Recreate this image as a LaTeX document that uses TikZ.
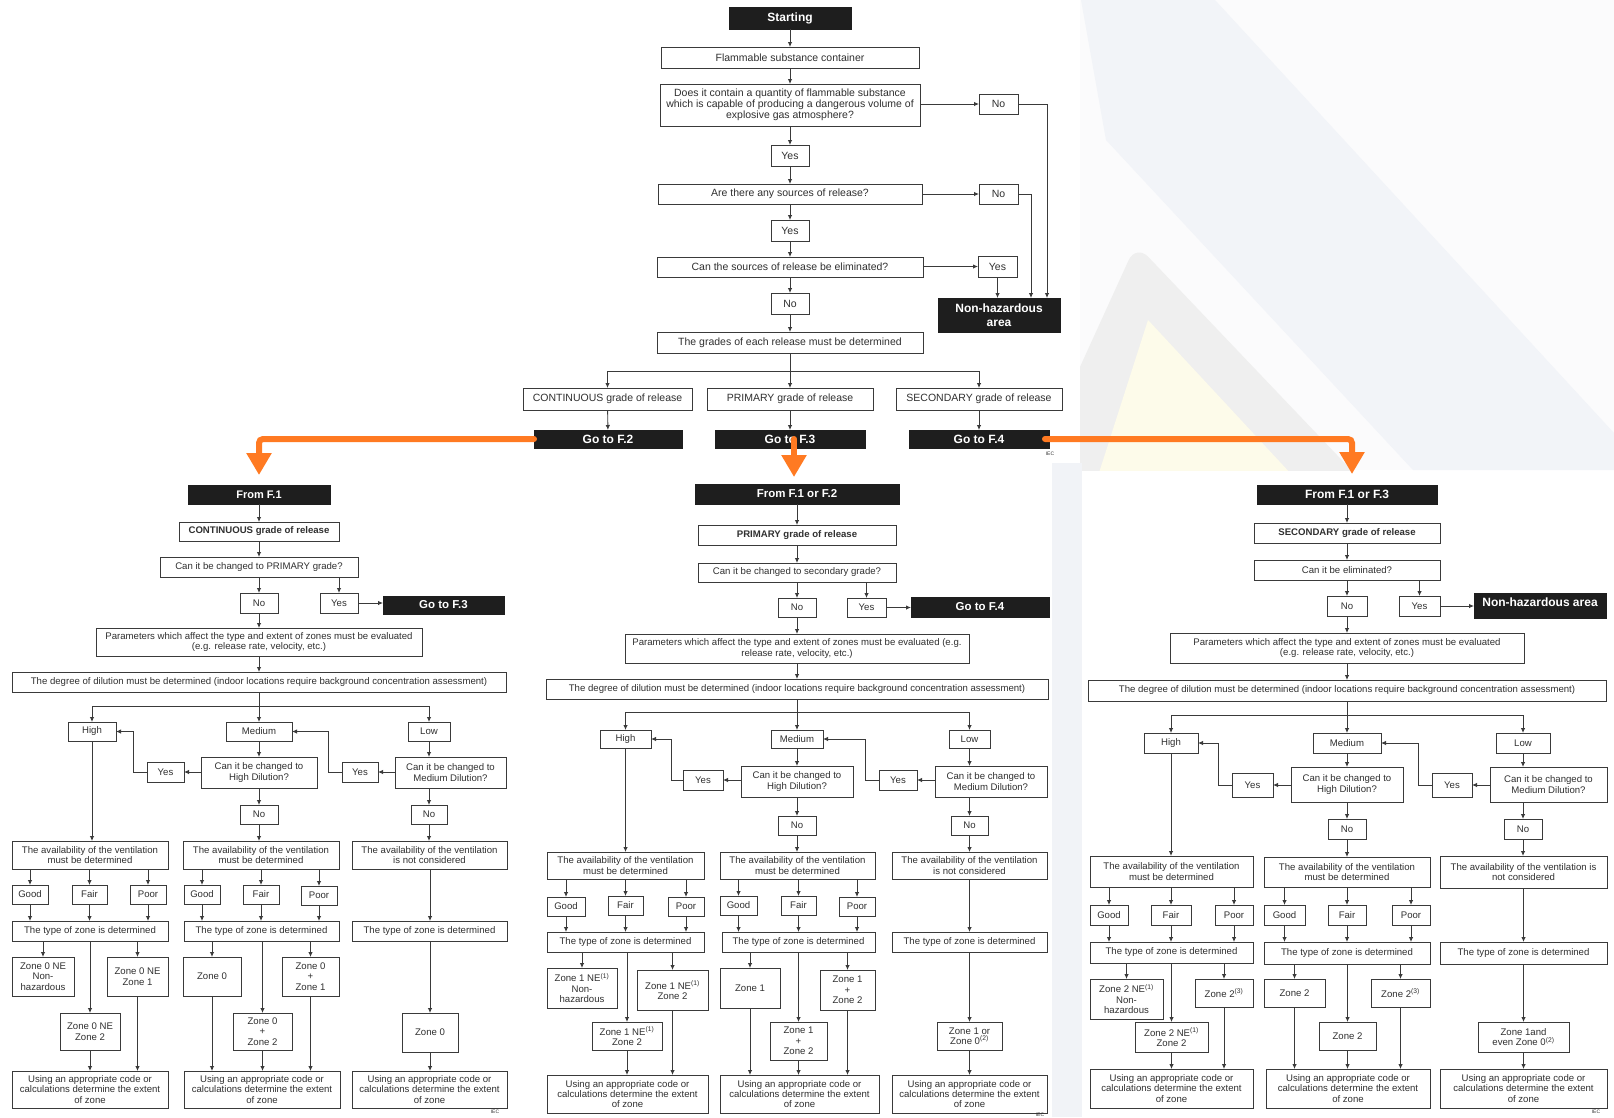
\documentclass[tikz,border=0pt]{standalone}
\usepackage{fontspec}
\setmainfont{Liberation Sans}
\usetikzlibrary{arrows.meta}
\definecolor{bc}{HTML}{3A3A3A}
\definecolor{tc}{HTML}{303030}
\definecolor{bk}{HTML}{1E1E1E}
\definecolor{orng}{HTML}{FF7A22}
\definecolor{wmbg}{HTML}{FBFBFC}
\definecolor{wmblue}{HTML}{F2F4F8}
\definecolor{wmgray}{HTML}{EFEFEF}
\definecolor{wmyel}{HTML}{FDFBEA}
\definecolor{stripc}{HTML}{F1F3F7}
\newcommand\panelfont{\fontsize{9.6}{10.4}\selectfont}
\newcommand\topfont{\fontsize{10.5}{11}\selectfont}
\newcommand\mybx[7][]{\node[box,minimum width={#5pt-#3pt},minimum height={#6pt-#4pt},#1] (#2) at ({(#3+#5)/2},{(#4+#6)/2}) {#7};}
\tikzset{
  box/.style={draw=bc,line width=0.9pt,fill=white,inner sep=1pt,outer sep=0pt,align=center,text=tc,font=\panelfont},
  blk/.style={fill=bk,draw=bk,text=white},
  tp/.style={font=\topfont},
  ar/.style={draw=bc,line width=0.9pt,-{Latex[length=5pt,width=4.5pt]}},
  ln/.style={draw=bc,line width=0.9pt},
  ora/.style={draw=orng,line width=6pt,line cap=round,rounded corners=4pt,-{Triangle[length=22pt,width=24pt]}},
  iec/.style={font=\fontsize{5}{6}\selectfont,text=tc}
}
\newcommand\panelconn[1]{%
\draw[ar] (#1from.south -| #1no) -- (#1grade.north -| #1no);
\draw[ar] (#1grade.south -| #1no) -- (#1q.north -| #1no);
\draw[ar] (#1q.south -| #1no) -- (#1no.north);
\draw[ar] (#1q.south -| #1yes) -- (#1yes.north);
\draw[ar] (#1yes.east) -- (#1yes.east -| #1goto.west);
\draw[ar] (#1no.south) -- (#1no.south |- #1par.north);
\draw[ar] (#1par.south -| #1no) -- (#1deg.north -| #1no);
\draw[ar] (#1deg.south -| #1med) -- (#1med.north);
\draw[ln] (#1br -| #1high) -- (#1br -| #1low);
\draw[ar] (#1br -| #1high) -- (#1high.north);
\draw[ar] (#1br -| #1low) -- (#1low.north);
\draw[ar] (#1med.south) -- (#1med.south |- #1qh.north);
\draw[ar] (#1qh.west |- #1yl) -- (#1yl.east);
\draw[ar] (#1yl.west) -- (#1yl.west -| #1lx) |- (#1high.east);
\draw[ar] (#1low.south) -- (#1low.south |- #1qm.north);
\draw[ar] (#1qm.west |- #1yr) -- (#1yr.east);
\draw[ar] (#1yr.west) -- (#1yr.west -| #1rx) |- (#1med.east);
\draw[ar] (#1qh.south -| #1nm) -- (#1nm.north);
\draw[ar] (#1nm.south) -- (#1nm.south |- #1avM.north);
\draw[ar] (#1qm.south -| #1nr) -- (#1nr.north);
\draw[ar] (#1nr.south) -- (#1nr.south |- #1avR.north);
\draw[ar] (#1high.south) -- (#1high.south |- #1avL.north);
\foreach \v/\s in {g/L,f/L,p/L,gM/M,fM/M,pM/M}{
  \draw[ar] (#1av\s.south -| #1\v) -- (#1\v.north);
  \draw[ar] (#1\v.south) -- (#1\v.south |- #1ty\s.north);}
\draw[ar] (#1avR.south -| #1zR) -- (#1tyR.north -| #1zR);
\draw[ar] (#1tyR.south -| #1zR) -- (#1zR.north);
\draw[ar] (#1zR.south) -- (#1zR.south |- #1usR.north);
\foreach \z in {zA,zB,zC}{\draw[ar] (#1tyL.south -| #1\z) -- (#1\z.north);}
\foreach \z in {zAM,zBM,zCM}{\draw[ar] (#1tyM.south -| #1\z) -- (#1\z.north);}
\foreach \z in {zB,zC}{\draw[ar] (#1\z.south) -- (#1\z.south |- #1usL.north);}
\foreach \z in {zAM,zBM,zCM}{\draw[ar] (#1\z.south) -- (#1\z.south |- #1usM.north);}
}
\newcommand\avtxt{The availability of the ventilation\\must be determined}
\newcommand\tytxt{The type of zone is determined}
\newcommand\ustxt{Using an appropriate code or\\calculations determine the extent\\of zone}
\newcommand\degtxt{The degree of dilution must be determined (indoor locations require background concentration assessment)}
\begin{document}
\begin{tikzpicture}[x=1pt,y=-1pt]
\useasboundingbox (0,0) rectangle (1614,1117);
\fill[white] (0,0) rectangle (1614,1117);
% watermark background
\begin{scope}
\clip (1080,0) rectangle (1614,470);
\fill[wmbg] (1080,0) rectangle (1614,470);
\fill[wmblue] (1081,0) -- (1215,0) -- (1614,433) -- (1614,470) -- (1413,470) -- (1106,140) -- cycle;
\fill[wmgray,rounded corners=18pt] (1136,244) -- (1437,560) -- (992,560) -- cycle;
\fill[wmyel] (1148,320) -- (1371,560) -- (1071,560) -- cycle;
\end{scope}
\fill[stripc] (1052,463) rectangle (1082,1117);

% ===== F.1 (top) =====
\mybx[blk,font=\fontsize{12}{14}\selectfont\bfseries]{start}{729}{7}{851}{29}{Starting}
\mybx[tp]{flam}{661}{47}{919}{68}{Flammable substance container}
\mybx[tp]{q1}{660}{84}{920}{126}{Does it contain a quantity of flammable substance\\which is capable of producing a dangerous volume of\\explosive gas atmosphere?}
\mybx[tp]{no1}{979}{94}{1018}{114}{No}
\mybx[tp]{yes1}{771}{145}{809}{166}{Yes}
\mybx[tp]{q2}{658}{184}{922}{204}{Are there any sources of release?}
\mybx[tp]{no2}{979}{184}{1018}{204}{No}
\mybx[tp]{yes2}{771}{220}{809}{241}{Yes}
\mybx[tp]{q3}{657}{257}{923}{277}{Can the sources of release be eliminated?}
\mybx[tp]{yes3}{978}{256}{1017}{277}{Yes}
\mybx[blk,font=\fontsize{12}{13.5}\selectfont\bfseries]{nh}{938}{298}{1060}{332}{Non-hazardous\\area}
\mybx[tp]{no3}{771}{293}{809}{314}{No}
\mybx[tp]{grades}{657}{332}{923}{353}{The grades of each release must be determined}
\mybx[tp]{cont}{523}{388}{692}{410}{CONTINUOUS grade of release}
\mybx[tp]{prim}{707}{388}{873}{410}{PRIMARY grade of release}
\mybx[tp]{sec}{896}{388}{1062}{410}{SECONDARY grade of release}
\mybx[blk,font=\fontsize{12}{14}\selectfont\bfseries]{goto2}{534}{430}{682}{448}{Go to F.2}
\mybx[blk,font=\fontsize{12}{14}\selectfont\bfseries]{goto3}{715}{430}{865}{448}{Go to F.3}
\mybx[blk,font=\fontsize{12}{14}\selectfont\bfseries]{goto4}{909}{430}{1049}{448}{Go to F.4}
\node[iec] (iec1) at (1050,454) {IEC};
\coordinate (gbr) at (790,371);
\coordinate (tx1) at (1047,0);
\coordinate (tx2) at (1031,0);
\draw[ar] (start) -- (flam);
\draw[ar] (flam) -- (q1);
\draw[ar] (q1) -- (yes1);
\draw[ar] (yes1) -- (q2);
\draw[ar] (q2) -- (yes2);
\draw[ar] (yes2) -- (q3);
\draw[ar] (q3) -- (no3);
\draw[ar] (no3) -- (grades);
\draw[ar] (q1.east |- no1) -- (no1.west);
\draw[ar] (q2.east |- no2) -- (no2.west);
\draw[ar] (q3.east |- yes3) -- (yes3.west);
\draw[ar] (no1.east) -- (no1.east -| tx1) -- (nh.north -| tx1);
\draw[ar] (no2.east) -- (no2.east -| tx2) -- (nh.north -| tx2);
\draw[ar] (yes3.south) -- (yes3.south |- nh.north);
\draw[ln] (grades.south) -- (gbr);
\draw[ln] (gbr -| cont) -- (gbr -| sec);
\draw[ar] (gbr -| cont) -- (cont.north);
\draw[ar] (gbr) -- (prim.north);
\draw[ar] (gbr -| sec) -- (sec.north);
\draw[ar] (cont) -- (goto2);
\draw[ar] (prim) -- (goto3);
\draw[ar] (sec) -- (goto4);

% ===== F.2 (left) =====
\mybx[blk,font=\fontsize{11}{13}\selectfont\bfseries]{afrom}{188}{485}{330}{504}{From F.1}
\mybx[font=\panelfont\bfseries]{agrade}{179}{522}{339}{541}{CONTINUOUS grade of release}
\mybx{aq}{160}{557}{358}{577}{Can it be changed to PRIMARY grade?}
\mybx{ano}{240}{593}{278}{613}{No}
\mybx{ayes}{320}{593}{358}{613}{Yes}
\mybx[blk,font=\fontsize{11.5}{13}\selectfont\bfseries]{agoto}{383}{596}{504}{614}{Go to F.3}
\mybx{apar}{96}{628}{422}{656}{Parameters which affect the type and extent of zones must be evaluated\\(e.g. release rate, velocity, etc.)}
\mybx{adeg}{12}{672}{506}{692}{\degtxt}
\coordinate (abr) at (259,706);
\mybx{ahigh}{68}{722}{116}{741}{High}
\mybx{amed}{226}{722}{292}{741}{Medium}
\mybx{alow}{408}{722}{450}{741}{Low}
\mybx{ayl}{147}{762}{184}{782}{Yes}
\mybx{aqh}{201}{757}{317}{788}{Can it be changed to\\High Dilution?}
\mybx{ayr}{342}{762}{378}{782}{Yes}
\mybx{aqm}{395}{757}{506}{788}{Can it be changed to\\Medium Dilution?}
\coordinate (alx) at (133,0);
\coordinate (arx) at (328,0);
\mybx{anm}{240}{805}{278}{824}{No}
\mybx{anr}{411}{805}{447}{824}{No}
\mybx{aavL}{12}{841}{168}{869}{\avtxt}
\mybx{aavM}{183}{841}{339}{869}{\avtxt}
\mybx{aavR}{352}{841}{507}{869}{The availability of the ventilation\\is not considered}
\mybx{ag}{12}{885}{48}{904}{Good}
\mybx{af}{72}{885}{107}{904}{Fair}
\mybx{ap}{130}{885}{166}{904}{Poor}
\mybx{agM}{184}{885}{220}{904}{Good}
\mybx{afM}{243}{885}{279}{904}{Fair}
\mybx{apM}{301}{886}{337}{905}{Poor}
\mybx{atyL}{12}{921}{168}{941}{\tytxt}
\mybx{atyM}{184}{921}{339}{941}{\tytxt}
\mybx{atyR}{352}{921}{507}{941}{\tytxt}
\mybx{azA}{12}{957}{74}{996}{Zone 0 NE\\Non-\\hazardous}
\mybx{azB}{107}{957}{168}{996}{Zone 0 NE\\Zone 1}
\mybx{azC}{60}{1013}{120}{1050}{Zone 0 NE\\Zone 2}
\mybx{azAM}{183}{957}{241}{996}{Zone 0}
\mybx{azBM}{282}{957}{339}{996}{Zone 0\\+\\Zone 1}
\mybx{azCM}{233}{1013}{292}{1050}{Zone 0\\+\\Zone 2}
\mybx{azR}{402}{1013}{458}{1052}{Zone 0}
\mybx{ausL}{12}{1071}{168}{1108}{\ustxt}
\mybx{ausM}{184}{1071}{340}{1108}{\ustxt}
\mybx{ausR}{352}{1071}{507}{1108}{\ustxt}
\node[iec] (iec2) at (495,1112) {IEC};
\panelconn{a}

% ===== F.3 (middle) =====
\mybx[blk,font=\fontsize{11.5}{13}\selectfont\bfseries]{bfrom}{695}{484}{899}{504}{From F.1 or F.2}
\mybx[font=\panelfont\bfseries]{bgrade}{698}{525}{896}{545}{PRIMARY grade of release}
\mybx{bq}{698}{563}{896}{582}{Can it be changed to secondary grade?}
\mybx{bno}{778}{598}{816}{617}{No}
\mybx{byes}{847}{598}{886}{617}{Yes}
\mybx[blk,font=\fontsize{11.5}{13}\selectfont\bfseries]{bgoto}{911}{597}{1049}{617}{Go to F.4}
\mybx{bpar}{625}{634}{969}{663}{Parameters which affect the type and extent of zones must be evaluated (e.g.\\release rate, velocity, etc.)}
\mybx{bdeg}{546}{679}{1048}{699}{\degtxt}
\coordinate (bbr) at (797,712);
\mybx{bhigh}{600}{730}{651}{748}{High}
\mybx{bmed}{771}{730}{823}{748}{Medium}
\mybx{blow}{949}{730}{990}{748}{Low}
\mybx{byl}{683}{770}{723}{790}{Yes}
\mybx{bqh}{741}{766}{853}{797}{Can it be changed to\\High Dilution?}
\mybx{byr}{879}{770}{917}{790}{Yes}
\mybx{bqm}{935}{766}{1047}{797}{Can it be changed to\\Medium Dilution?}
\coordinate (blx) at (671,0);
\coordinate (brx) at (865,0);
\mybx{bnm}{778}{816}{816}{835}{No}
\mybx{bnr}{951}{816}{988}{835}{No}
\mybx{bavL}{547}{852}{704}{879}{\avtxt}
\mybx{bavM}{720}{852}{875}{879}{\avtxt}
\mybx{bavR}{892}{852}{1047}{879}{The availability of the ventilation\\is not considered}
\mybx{bg}{547}{897}{585}{916}{Good}
\mybx{bf}{608}{896}{643}{915}{Fair}
\mybx{bp}{668}{897}{704}{916}{Poor}
\mybx{bgM}{720}{896}{757}{915}{Good}
\mybx{bfM}{781}{896}{816}{915}{Fair}
\mybx{bpM}{839}{897}{875}{916}{Poor}
\mybx{btyL}{547}{932}{704}{952}{\tytxt}
\mybx{btyM}{722}{932}{875}{952}{\tytxt}
\mybx{btyR}{892}{932}{1047}{952}{\tytxt}
\mybx{bzA}{547}{968}{617}{1008}{Zone 1 NE\textsuperscript{(1)}\\Non-\\hazardous}
\mybx{bzB}{637}{970}{708}{1010}{Zone 1 NE\textsuperscript{(1)}\\Zone 2}
\mybx{bzC}{592}{1022}{662}{1050}{Zone 1 NE\textsuperscript{(1)}\\Zone 2}
\mybx{bzAM}{720}{968}{780}{1008}{Zone 1}
\mybx{bzBM}{820}{970}{875}{1010}{Zone 1\\+\\Zone 2}
\mybx{bzCM}{770}{1022}{827}{1060}{Zone 1\\+\\Zone 2}
\mybx{bzR}{937}{1022}{1002}{1050}{Zone 1 or\\Zone 0\textsuperscript{(2)}}
\mybx{busL}{547}{1075}{708}{1113}{\ustxt}
\mybx{busM}{720}{1075}{879}{1113}{\ustxt}
\mybx{busR}{892}{1075}{1047}{1113}{\ustxt}
\node[iec] (iec3) at (1040,1115) {IEC};
\panelconn{b}

% ===== F.4 (right) =====
\mybx[blk,font=\fontsize{12}{14}\selectfont\bfseries]{cfrom}{1257}{485}{1437}{504}{From F.1 or F.3}
\mybx[font=\panelfont\bfseries]{cgrade}{1254}{523}{1440}{543}{SECONDARY grade of release}
\mybx{cq}{1254}{560}{1440}{580}{Can it be eliminated?}
\mybx{cno}{1327}{596}{1367}{616}{No}
\mybx{cyes}{1399}{596}{1440}{616}{Yes}
\mybx[blk,font=\fontsize{12}{14}\selectfont\bfseries,text depth=7pt]{cgoto}{1474}{593}{1606}{618}{Non-hazardous area}
\mybx{cpar}{1170}{633}{1524}{663}{Parameters which affect the type and extent of zones must be evaluated\\(e.g. release rate, velocity, etc.)}
\mybx{cdeg}{1088}{680}{1606}{701}{\degtxt}
\coordinate (cbr) at (1347,715);
\mybx{chigh}{1144}{733}{1198}{753}{High}
\mybx{cmed}{1313}{733}{1381}{753}{Medium}
\mybx{clow}{1496}{733}{1550}{753}{Low}
\mybx{cyl}{1232}{773}{1273}{797}{Yes}
\mybx{cqh}{1291}{767}{1403}{802}{Can it be changed to\\High Dilution?}
\mybx{cyr}{1432}{773}{1472}{797}{Yes}
\mybx{cqm}{1490}{767}{1607}{802}{Can it be changed to\\Medium Dilution?}
\coordinate (clx) at (1218,0);
\coordinate (crx) at (1418,0);
\mybx{cnm}{1328}{819}{1366}{839}{No}
\mybx{cnr}{1504}{819}{1542}{839}{No}
\mybx{cavL}{1090}{856}{1253}{887}{\avtxt}
\mybx{cavM}{1264}{857}{1430}{887}{\avtxt}
\mybx{cavR}{1440}{856}{1607}{888}{The availability of the ventilation is\\not considered}
\mybx{cg}{1090}{905}{1128}{925}{Good}
\mybx{cf}{1151}{905}{1191}{925}{Fair}
\mybx{cp}{1215}{905}{1253}{925}{Poor}
\mybx{cgM}{1264}{905}{1305}{925}{Good}
\mybx{cfM}{1328}{905}{1366}{925}{Fair}
\mybx{cpM}{1392}{905}{1430}{925}{Poor}
\mybx{ctyL}{1090}{942}{1253}{963}{\tytxt}
\mybx{ctyM}{1264}{942}{1430}{964}{\tytxt}
\mybx{ctyR}{1440}{942}{1607}{964}{\tytxt}
\mybx{czA}{1090}{979}{1163}{1019}{Zone 2 NE\textsuperscript{(1)}\\Non-\\hazardous}
\mybx{czB}{1195}{979}{1253}{1007}{Zone 2\textsuperscript{(3)}}
\mybx{czC}{1135}{1022}{1208}{1052}{Zone 2 NE\textsuperscript{(1)}\\Zone 2}
\mybx{czAM}{1264}{979}{1325}{1007}{Zone 2}
\mybx{czBM}{1371}{979}{1430}{1007}{Zone 2\textsuperscript{(3)}}
\mybx{czCM}{1319}{1022}{1376}{1050}{Zone 2}
\mybx{czR}{1478}{1022}{1569}{1052}{Zone 1and\\even Zone 0\textsuperscript{(2)}}
\mybx{cusL}{1090}{1069}{1253}{1108}{\ustxt}
\mybx{cusM}{1266}{1069}{1430}{1108}{\ustxt}
\mybx{cusR}{1440}{1069}{1607}{1108}{\ustxt}
\node[iec] (iec4) at (1596,1112) {IEC};
\panelconn{c}

% ===== orange links =====
\draw[ora,shorten >=10pt] (goto2.west) -| (afrom.north);
\draw[ora,shorten >=7pt] ([xshift=4pt]goto3.center) -- ([xshift=4pt]goto3.center |- bfrom.north);
\draw[ora,shorten >=11pt] ([xshift=-4pt]goto4.east) -| ([xshift=5pt]cfrom.north);
\end{tikzpicture}
\end{document}
